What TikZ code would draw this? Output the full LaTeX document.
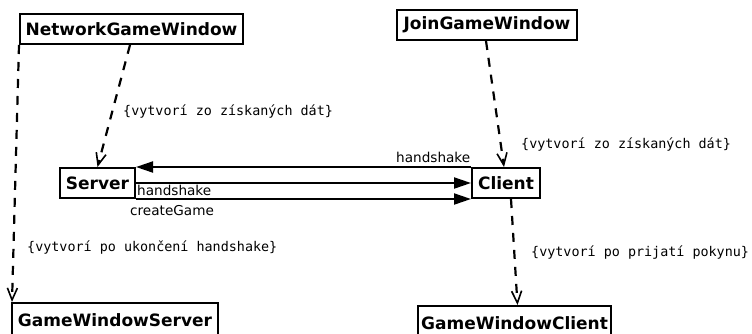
\documentclass[tikz,border=0pt]{standalone}
\usepackage{fontspec}
\setmainfont{DejaVu Sans}
\setmonofont{DejaVu Sans Mono}
\usetikzlibrary{arrows.meta}
\begin{document}
\begin{tikzpicture}[x=1pt,y=-1pt,
  cls/.style={draw,line width=2pt,inner sep=0pt,font=\fontsize{17}{17}\selectfont\bfseries},
  dep/.style={line width=2.2pt,dash pattern=on 9pt off 8pt,-{Straight Barb[length=12pt,width=10pt,line width=1.6pt]}},
  msg/.style={line width=2pt,-{Triangle[length=17pt,width=11pt]}},
  note/.style={font=\fontsize{13.4}{14}\ttfamily,inner sep=0pt},
  lbl/.style={font=\fontsize{13.6}{14}\selectfont,inner sep=0pt}]
\clip (0,0) rectangle (752,333);
\fill[white] (0,0) rectangle (752,333);
% boxes
\node[cls,minimum width=223pt,minimum height=30pt] (ngw) at (131.5,29) {NetworkGameWindow};
\node[cls,minimum width=180pt,minimum height=30pt] (jgw) at (487,25) {JoinGameWindow};
\node[cls,minimum width=75pt,minimum height=30pt] (srv) at (97.5,183) {Server};
\node[cls,minimum width=68pt,minimum height=30pt] (cli) at (506,183) {Client};
\node[cls,minimum width=206pt,minimum height=34pt] (gws) at (115,320) {GameWindowServer};
\node[cls,minimum width=193pt,minimum height=34pt] (gwc) at (514.5,323) {GameWindowClient};
% messages
\draw[msg] (cli.north west) -- (srv.north east);
\draw[msg] (srv.east) -- (cli.west);
\draw[msg] (srv.south east) -- (cli.south west);
\node[lbl,anchor=west] (l1) at (396,157) {handshake};
\node[lbl,anchor=west] (l2) at (137,190) {handshake};
\node[lbl,anchor=west] (l3) at (130,211) {createGame};
% dependencies
\coordinate (a1) at ([xshift=-1.5pt]ngw.south);
\draw[dep] (a1) -- (srv.north);
\draw[dep] (ngw.south west) -- ([xshift=1pt]gws.north west);
\draw[dep] ([xshift=-1pt]jgw.south) -- ([xshift=-2pt]cli.north);
\draw[dep] ([xshift=5pt]cli.south) -- ([xshift=3pt]gwc.north);
\node[note,anchor=west] (n1) at (123,112) {\{vytvorí zo získaných dát\}};
\node[note,anchor=west] (n2) at (521,145) {\{vytvorí zo získaných dát\}};
\node[note,anchor=west] (n3) at (27,248) {\{vytvorí po ukončení handshake\}};
\node[note,anchor=west] (n4) at (531,253) {\{vytvorí po prijatí pokynu\}};
\end{tikzpicture}
\end{document}
